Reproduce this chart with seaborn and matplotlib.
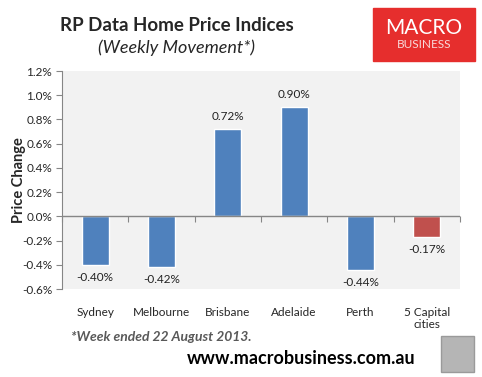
"""
RP Data Home Price Indices - weekly movement by capital city
Output: out.png
"""

import matplotlib.pyplot as plt
import numpy as np
import seaborn as sns
from matplotlib.patches import Rectangle
from matplotlib.ticker import FuncFormatter

sns.set_style('white')
plt.rcParams['font.family'] = ['Lato', 'DejaVu Sans']

BLUE = '#4F81BD'
RED = '#C0504D'

cities = ['Sydney', 'Melbourne', 'Brisbane', 'Adelaide', 'Perth', '5 Capital\ncities']
changes = [-0.40, -0.42, 0.72, 0.90, -0.44, -0.17]
bar_colors = [BLUE, BLUE, BLUE, BLUE, BLUE, RED]
value_labels = ['-0.40%', '-0.42%', '0.72%', '0.90%', '-0.44%', '-0.17%']
y_ticks = [-0.6, -0.4, -0.2, 0.0, 0.2, 0.4, 0.6, 0.8, 1.0, 1.2]


def create_chart():
    fig = plt.figure(figsize=(4.82, 3.77), dpi=100)
    ax = fig.add_axes([0.1286, 0.2334, 0.8257, 0.5782])
    ax.set_facecolor('#F2F2F2')

    sns.barplot(x=cities, y=changes, hue=cities, palette=bar_colors,
                legend=False, width=0.41, saturation=1, ax=ax)

    for cont, lab in zip(ax.containers, value_labels):
        ax.bar_label(cont, labels=[lab], padding=5, fontsize=8.5, color='#222222')

    ax.set_ylim(-0.6, 1.2)
    ax.set_xlim(-0.5, len(cities) - 0.5)
    ax.set_yticks(y_ticks)
    ax.yaxis.set_major_formatter(FuncFormatter(lambda v, p: f'{v:.1f}%'))
    ax.tick_params(axis='y', length=4, width=0.8, color='#868686', labelsize=8.5,
                   left=True, pad=3)
    ax.tick_params(axis='x', length=0, labelsize=8.5, pad=13)
    for t in ax.get_xticklabels():
        t.set_linespacing(1.15)
    ax.set_ylabel('Price Change', fontsize=10.5, fontweight='bold')
    ax.yaxis.set_label_coords(-0.09, 0.5)

    for side in ['top', 'right', 'bottom']:
        ax.spines[side].set_visible(False)
    ax.spines['left'].set_color('#868686')
    ax.axhline(0, color='#868686', lw=1)

    # category boundary ticks on the zero line
    zero_pos = (0 - (-0.6)) / (1.2 - (-0.6))
    sec = ax.secondary_xaxis(zero_pos)
    sec.set_xticks(np.arange(-0.5, len(cities), 1.0))
    sec.set_xticklabels([])
    sec.tick_params(length=4, width=0.8, color='#868686', direction='out')
    sec.spines['bottom'].set_visible(False)

    fig.text(0.367, 0.933, 'RP Data Home Price Indices', fontsize=13.5,
             fontweight='bold', ha='center', va='center')
    fig.text(0.367, 0.873, '(Weekly Movement*)', fontsize=13, style='italic',
             ha='center', va='center')

    # logo
    fig.patches.append(Rectangle((373 / 482, 1 - 61 / 377), 102 / 482, 53 / 377,
                                 transform=fig.transFigure, color='#E62E2D',
                                 zorder=0))
    fig.text(0.880, 0.926, 'MACRO', fontsize=15, color='white', ha='center',
             va='center', zorder=5)
    fig.text(0.880, 0.883, 'BUSINESS', fontsize=8.5, color='#F8DADA', ha='center',
             va='center', zorder=5)

    fig.text(0.148, 0.106, '*Week ended 22 August 2013.', fontsize=10,
             fontweight='bold', style='italic', color='#595959', va='center')
    fig.text(0.625, 0.050, 'www.macrobusiness.com.au', fontsize=13,
             fontweight='bold', color='black', ha='center', va='center')

    fig.patches.append(Rectangle((441 / 482, 1 - 372 / 377), 33 / 482, 36 / 377,
                                 transform=fig.transFigure, facecolor='#B5B5B5',
                                 edgecolor='#9A9A9A', lw=1))

    fig.savefig('out.png', dpi=100)
    plt.close(fig)


if __name__ == '__main__':
    create_chart()
